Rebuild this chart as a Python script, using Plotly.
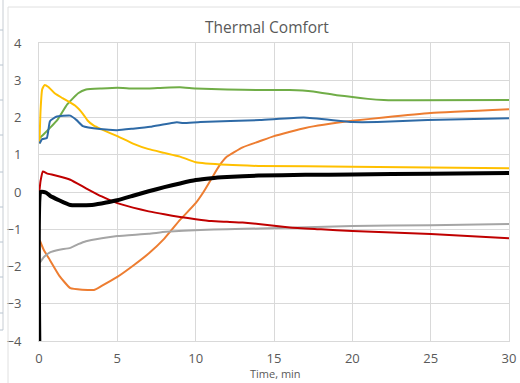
import plotly.graph_objects as go

# ---- data ----
green_t = [0.05, 0.3, 0.7, 1.2, 1.8, 2.5, 3.0, 4.0, 5.0, 6.0, 7.0, 8.0, 9.0, 10.0, 12.0, 14.0, 16.0, 17.5, 19.0, 20.0, 21.0, 22.0, 24.0, 30.0]
green_v = [1.45, 1.55, 1.72, 1.95, 2.35, 2.65, 2.75, 2.78, 2.8, 2.78, 2.78, 2.8, 2.81, 2.78, 2.75, 2.74, 2.74, 2.7, 2.6, 2.55, 2.5, 2.47, 2.46, 2.47]

yellow_t = [0.03, 0.1, 0.2, 0.35, 0.6, 1.0, 1.5, 2.3, 2.8, 3.1, 3.5, 4.0, 5.0, 6.0, 7.0, 8.0, 9.0, 10.0, 12.0, 14.0, 20.0, 30.0]
yellow_v = [1.3, 2.2, 2.75, 2.87, 2.82, 2.65, 2.52, 2.32, 2.1, 1.92, 1.78, 1.68, 1.5, 1.3, 1.15, 1.05, 0.95, 0.8, 0.73, 0.7, 0.68, 0.64]

blue_t = [0.03, 0.2, 0.5, 0.7, 1.1, 2.0, 2.4, 2.8, 3.9, 5.0, 6.0, 7.1, 8.8, 9.2, 10.3, 14.1, 16.9, 20.0, 21.6, 24.8, 30.0]
blue_v = [1.3, 1.42, 1.45, 1.9, 2.02, 2.05, 1.93, 1.77, 1.69, 1.66, 1.7, 1.75, 1.87, 1.85, 1.88, 1.93, 2.0, 1.88, 1.88, 1.93, 1.98]

red_t = [0.02, 0.1, 0.25, 0.5, 1.0, 2.0, 3.0, 4.0, 5.0, 6.0, 7.0, 8.0, 9.0, 10.0, 11.0, 12.0, 13.0, 14.0, 16.0, 18.0, 20.0, 25.0, 30.0]
red_v = [0.0, 0.3, 0.55, 0.5, 0.45, 0.33, 0.1, -0.12, -0.3, -0.42, -0.52, -0.6, -0.67, -0.73, -0.78, -0.8, -0.82, -0.86, -0.95, -1.0, -1.05, -1.13, -1.24]

gray_t = [0.05, 0.3, 0.7, 1.3, 2.0, 2.5, 3.0, 4.0, 5.0, 7.0, 8.1, 10.3, 12.0, 14.1, 20.0, 25.0, 30.0]
gray_v = [-1.9, -1.75, -1.62, -1.55, -1.5, -1.4, -1.32, -1.24, -1.18, -1.12, -1.07, -1.02, -1.0, -0.98, -0.91, -0.89, -0.86]

orange_t = [0.05, 0.3, 0.7, 1.3, 2.0, 3.5, 4.0, 5.0, 6.0, 7.0, 8.0, 9.0, 10.0, 10.5, 11.0, 11.5, 12.0, 13.0, 14.0, 15.0, 17.0, 20.0, 22.0, 25.0, 30.0]
orange_v = [-1.3, -1.55, -1.83, -2.25, -2.58, -2.63, -2.52, -2.28, -1.98, -1.65, -1.25, -0.75, -0.3, 0.0, 0.35, 0.7, 0.95, 1.2, 1.35, 1.5, 1.72, 1.91, 2.0, 2.12, 2.22]

black_t = [0.02, 0.1, 0.3, 0.5, 0.7, 2.0, 3.5, 4.3, 5.0, 6.0, 7.0, 8.0, 9.0, 10.0, 11.0, 12.0, 14.0, 17.0, 20.0, 25.0, 30.0]
black_v = [-4.0, 0.0, 0.0, -0.03, -0.1, -0.35, -0.34, -0.28, -0.22, -0.1, 0.02, 0.13, 0.23, 0.32, 0.37, 0.4, 0.44, 0.46, 0.47, 0.49, 0.51]

x_ticks = [0, 5, 10, 15, 20, 25, 30]
y_ticks = [-4, -3, -2, -1, 0, 1, 2, 3, 4]

title_text = "Thermal Comfort"
x_title = "Time, min"

series = [
    (green_t, green_v, "#70AD47", 2),
    (orange_t, orange_v, "#ED7D31", 2),
    (gray_t, gray_v, "#A5A5A5", 2),
    (yellow_t, yellow_v, "#FFC000", 2),
    (blue_t, blue_v, "#2E6AA6", 2),
    (red_t, red_v, "#C00000", 2),
    (black_t, black_v, "#000000", 4),
]

fig = go.Figure()
for t, v, c, w in series:
    fig.add_trace(go.Scatter(x=t, y=v, mode="lines",
                             line=dict(color=c, width=w, shape="spline", smoothing=0.4),
                             showlegend=False, hoverinfo="skip"))

L, R, T, B = 39, 11, 43, 42
W, H = 520, 383
pw, ph = W - L - R, H - T - B

def px(x):
    return (x - L) / pw

def py(y):
    return (H - B - y) / ph

shapes = []
# outer screenshot frame lines
shapes.append(dict(type="line", xref="paper", yref="paper", x0=px(3), x1=px(3), y0=py(0), y1=py(330),
                   line=dict(color="#C8CDD3", width=1)))
for yy in [30, 65, 100, 135, 172, 207, 242, 277, 313, 330]:
    shapes.append(dict(type="line", xref="paper", yref="paper", x0=px(0), x1=px(3), y0=py(yy), y1=py(yy),
                       line=dict(color="#B8C4D0", width=1)))
shapes.append(dict(type="line", xref="paper", yref="paper", x0=px(8), x1=px(8), y0=py(7), y1=py(383),
                   line=dict(color="#E0E0E0", width=1)))
shapes.append(dict(type="line", xref="paper", yref="paper", x0=px(8), x1=px(520), y0=py(7), y1=py(7),
                   line=dict(color="#E0E0E0", width=1)))

fig.update_layout(
    width=W, height=H,
    margin=dict(l=L, r=R, t=T, b=B, autoexpand=False),
    paper_bgcolor="white", plot_bgcolor="white",
    font=dict(family="Open Sans, Noto Sans, sans-serif", color="#595959", size=12),
    title=dict(text=title_text, x=px(267), xref="paper", xanchor="center",
               y=1 - 28 / H, yref="container", yanchor="middle",
               font=dict(size=15.5, color="#595959"), automargin=False),
    shapes=shapes,
    annotations=[dict(text=x_title, x=px(275), y=py(373), xref="paper", yref="paper",
                      showarrow=False, xanchor="center", yanchor="middle",
                      font=dict(size=11, color="#595959"))],
)
fig.update_xaxes(range=[0, 30], tickvals=x_ticks, showgrid=True, gridcolor="#D9D9D9", gridwidth=1,
                 zeroline=False, showline=True, linecolor="#D9D9D9", mirror=True, automargin=False,
                 ticks="", ticklabelstandoff=5, tickfont=dict(size=13, color="#595959"))
fig.update_yaxes(range=[-4, 4], tickvals=y_ticks, showgrid=True, gridcolor="#D9D9D9", gridwidth=1,
                 zeroline=False, showline=True, linecolor="#D9D9D9", mirror=True, automargin=False,
                 ticks="", ticklabelstandoff=14, tickfont=dict(size=13, color="#595959"))

fig.write_html("out.html", config={"displayModeBar": False, "staticPlot": True},
               post_script="document.body.style.margin='0';document.body.style.padding='0';")
